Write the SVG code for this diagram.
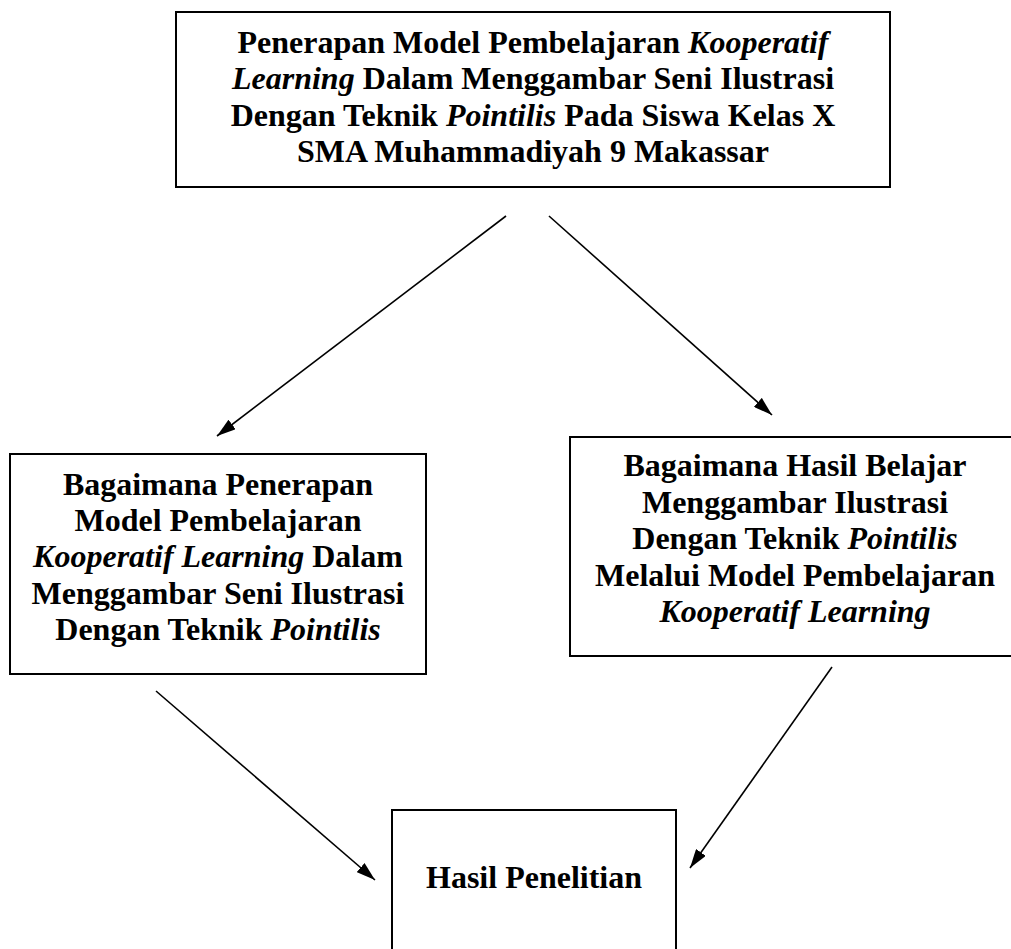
<svg xmlns="http://www.w3.org/2000/svg" width="1011" height="949" viewBox="0 0 1011 949">
<style>
.box{fill:#fff;stroke:#000;stroke-width:2}
.t{font-family:"Liberation Serif","Times New Roman",serif;font-size:32px;font-weight:bold;fill:#000;text-anchor:middle}
.i{font-style:italic}
.c{stroke:#000;stroke-width:1.6;fill:none;marker-end:url(#ah)}
</style>
<defs>
<marker id="ah" markerUnits="userSpaceOnUse" markerWidth="20" markerHeight="12" refX="19" refY="6" orient="auto">
<path d="M0,0 L19,6 L0,12 z" fill="#000"/>
</marker>
</defs>
<rect width="1011" height="949" fill="#fff"/>
<g id="connectors">
<line class="c" x1="506" y1="216" x2="217" y2="436"/>
<line class="c" x1="549" y1="216" x2="772" y2="415"/>
<line class="c" x1="156" y1="691" x2="375" y2="880"/>
<line class="c" x1="832" y1="667" x2="690" y2="868"/>
</g>
<g id="node-top">
<rect class="box" x="176" y="12" width="714" height="175"/>
<text class="t" x="533" y="53">Penerapan Model Pembelajaran <tspan class="i">Kooperatif</tspan></text>
<text class="t" x="533" y="89"><tspan class="i">Learning</tspan> Dalam Menggambar Seni Ilustrasi</text>
<text class="t" x="533" y="126">Dengan Teknik <tspan class="i">Pointilis</tspan> Pada Siswa Kelas X</text>
<text class="t" x="533" y="162">SMA Muhammadiyah 9 Makassar</text>
</g>
<g id="node-left">
<rect class="box" x="10" y="454" width="416" height="220"/>
<text class="t" x="218" y="495">Bagaimana Penerapan</text>
<text class="t" x="218" y="531">Model Pembelajaran</text>
<text class="t" x="218" y="567"><tspan class="i">Kooperatif Learning</tspan> Dalam</text>
<text class="t" x="218" y="604">Menggambar Seni Ilustrasi</text>
<text class="t" x="218" y="640">Dengan Teknik <tspan class="i">Pointilis</tspan></text>
</g>
<g id="node-right">
<rect class="box" x="570" y="437" width="452" height="219"/>
<text class="t" x="795" y="476">Bagaimana Hasil Belajar</text>
<text class="t" x="795" y="513">Menggambar Ilustrasi</text>
<text class="t" x="795" y="549">Dengan Teknik <tspan class="i">Pointilis</tspan></text>
<text class="t" x="795" y="586">Melalui Model Pembelajaran</text>
<text class="t" x="795" y="622"><tspan class="i">Kooperatif Learning</tspan></text>
</g>
<g id="node-bottom">
<rect class="box" x="392" y="810" width="284" height="145"/>
<text class="t" x="534" y="888">Hasil Penelitian</text>
</g>
</svg>
